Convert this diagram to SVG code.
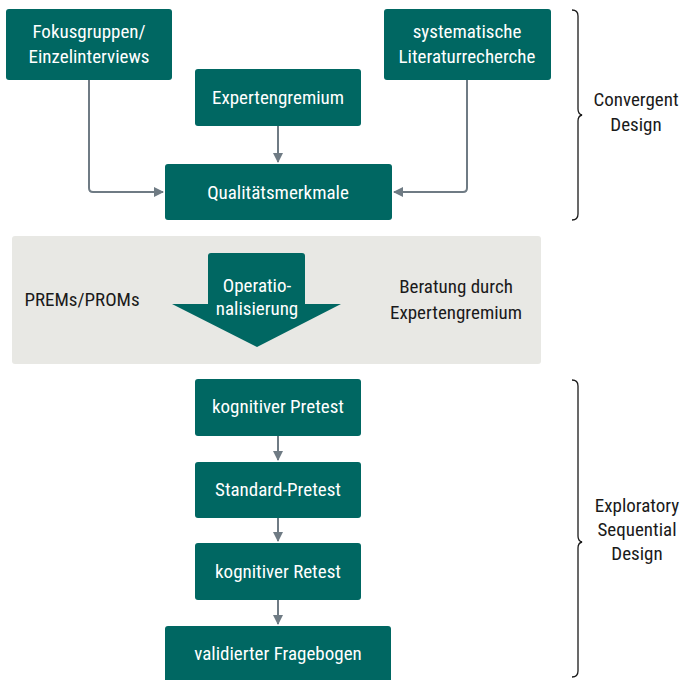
<svg xmlns="http://www.w3.org/2000/svg" width="681" height="680" viewBox="0 0 681 680">
<style>
.box{fill:#006762;}
.t{font-family:"Liberation Sans Narrow","Roboto Condensed","Liberation Sans",sans-serif;font-size:19px;fill:#ffffff;text-anchor:middle;}
.d{font-family:"Liberation Sans Narrow","Roboto Condensed","Liberation Sans",sans-serif;font-size:19px;fill:#1a1a1a;text-anchor:middle;}
.c{fill:none;stroke:#6f7b84;stroke-width:2;}
.br{fill:none;stroke:#1a1a1a;stroke-width:1.3;}
</style>
<defs>
<marker id="ah" viewBox="0 0 10 10" refX="9" refY="5" markerWidth="5" markerHeight="5" orient="auto">
<path d="M0,0 L10,5 L0,10 z" fill="#6f7b84"/>
</marker>
</defs>
<rect x="12" y="236" width="529" height="128" rx="3" fill="#e8e8e4"/>
<g id="connectors">
<path class="c" d="M89,80 V188 Q89,192 93,192 H163" marker-end="url(#ah)"/>
<path class="c" d="M278,126 V162" marker-end="url(#ah)"/>
<path class="c" d="M467,80 V188 Q467,192 463,192 H394" marker-end="url(#ah)"/>
<path class="c" d="M278,436 V460" marker-end="url(#ah)"/>
<path class="c" d="M278,518 V541" marker-end="url(#ah)"/>
<path class="c" d="M278,600 V624" marker-end="url(#ah)"/>
</g>
<g id="n-fokus"><rect class="box" x="6" y="9" width="166" height="71" rx="3"/><text class="t" x="89" y="38">Fokusgruppen/</text><text class="t" x="89" y="63">Einzelinterviews</text></g>
<g id="n-literatur"><rect class="box" x="384" y="9" width="167" height="71" rx="3"/><text class="t" x="467" y="38">systematische</text><text class="t" x="467" y="63">Literaturrecherche</text></g>
<g id="n-experten"><rect class="box" x="195" y="69" width="166" height="57" rx="3"/><text class="t" x="278" y="104">Expertengremium</text></g>
<g id="n-qualitaet"><rect class="box" x="165" y="164" width="227" height="56" rx="3"/><text class="t" x="278" y="199">Qualitätsmerkmale</text></g>
<g id="n-operationalisierung"><path class="box" d="M208,256 Q208,253 211,253 H302 Q305,253 305,256 V304 H341 L257,347 L172,304 H208 Z"/><text class="t" x="257" y="292">Operatio-</text><text class="t" x="257" y="315">nalisierung</text></g>
<g id="n-prems"><text class="d" x="82" y="306">PREMs/PROMs</text></g>
<g id="n-beratung"><text class="d" x="456" y="293">Beratung durch</text><text class="d" x="456" y="319">Expertengremium</text></g>
<g id="n-kpretest"><rect class="box" x="195" y="379" width="166" height="57" rx="3"/><text class="t" x="278" y="413">kognitiver Pretest</text></g>
<g id="n-spretest"><rect class="box" x="195" y="462" width="166" height="56" rx="3"/><text class="t" x="278" y="496">Standard-Pretest</text></g>
<g id="n-kretest"><rect class="box" x="195" y="543" width="166" height="57" rx="3"/><text class="t" x="278" y="578">kognitiver Retest</text></g>
<g id="n-validiert"><rect class="box" x="165" y="626" width="226" height="60" rx="3"/><text class="t" x="278" y="660">validierter Fragebogen</text></g>
<g id="n-convergent"><path class="br" d="M572,10 Q578,10 578,16 V109 Q578,114 582,115 Q578,116 578,121 V214 Q578,220 572,220"/><text class="d" x="636" y="106">Convergent</text><text class="d" x="636" y="131">Design</text></g>
<g id="n-exploratory"><path class="br" d="M572,380 Q578,380 578,386 V536 Q578,541 582,542 Q578,543 578,548 V671 Q578,677 572,677"/><text class="d" x="637" y="512">Exploratory</text><text class="d" x="637" y="536">Sequential</text><text class="d" x="637" y="560">Design</text></g>
</svg>
